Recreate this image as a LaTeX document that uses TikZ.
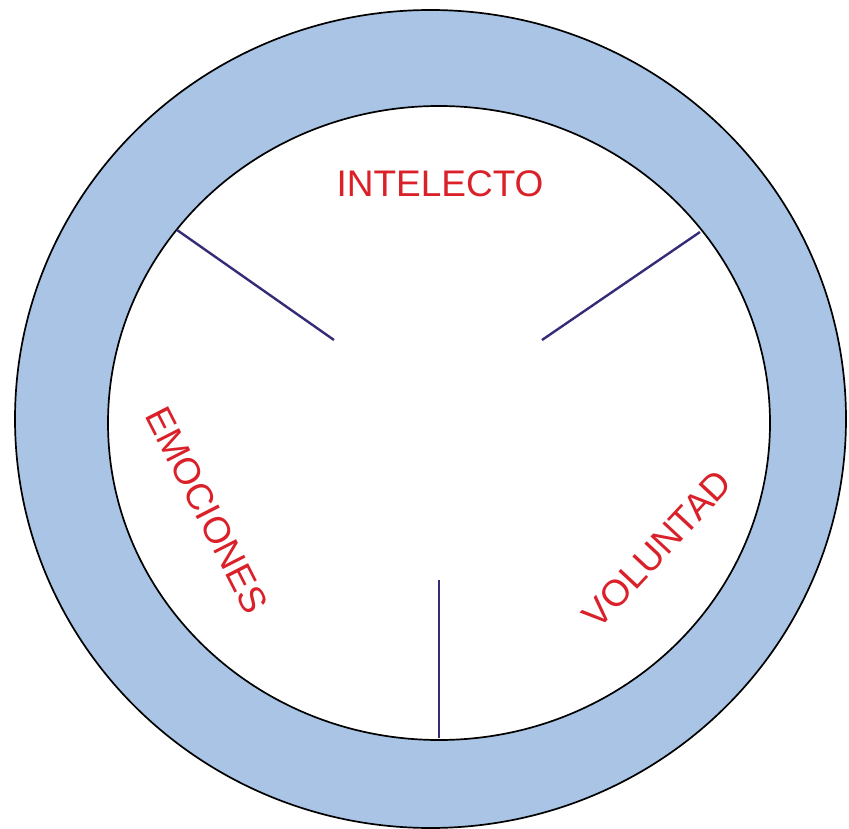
\documentclass[tikz,border=0pt]{standalone}
\usepackage{fontspec}
\setmainfont{Liberation Sans}
\definecolor{ringblue}{RGB}{169,196,228}
\definecolor{labred}{RGB}{218,32,40}
\definecolor{spoke}{RGB}{52,44,120}
\tikzset{
  ring/.style={draw=black, line width=1.7pt},
  spokeline/.style={draw=spoke, line width=2.4pt},
  lab/.style={text=labred, font=\fontsize{37}{40}\selectfont, inner sep=0pt}
}
\begin{document}
\begin{tikzpicture}[x=1pt,y=-1pt]
\useasboundingbox (0,0) rectangle (849,829);
\fill[ringblue, even odd rule] (430.5,419) ellipse [x radius=415.5pt, y radius=409pt]
  (439,423) ellipse [x radius=331pt, y radius=317pt];
\draw[ring] (430.5,419) ellipse [x radius=415.5pt, y radius=409pt];
\draw[ring] (439,423) ellipse [x radius=331pt, y radius=317pt];
\coordinate (s1a) at (177,230);
\coordinate (s1b) at (334,340);
\coordinate (s2a) at (700,232);
\coordinate (s2b) at (542,340);
\coordinate (s3a) at (439,580);
\coordinate (s3b) at (439,738);
\draw[spokeline] (s1a) -- (s1b);
\draw[spokeline] (s2a) -- (s2b);
\draw[spokeline] (s3a) -- (s3b);
\node[lab] (intel) at (440,183.5) {INTELECTO};
\node[lab, rotate=-63] (emoc) at (207,510) {EMOCIONES};
\node[lab, rotate=47] (volun) at (657,549) {VOLUNTAD};
\end{tikzpicture}
\end{document}
